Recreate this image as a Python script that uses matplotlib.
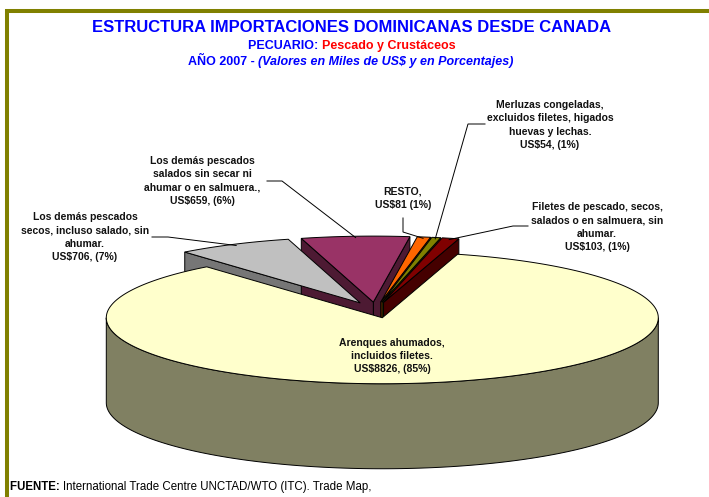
import numpy as np
import matplotlib.pyplot as plt
from matplotlib.patches import Polygon

plt.rcParams['font.family'] = ['Liberation Sans', 'DejaVu Sans']

# data (clockwise from the back-left)
names = ["Los demás pescados\nsecos, incluso salado, sin\nahumar.",
         "Los demás pescados\nsalados sin secar ni\nahumar o en salmuera.,",
         "RESTO,",
         "Merluzas congeladas,\nexcluidos filetes, higados\nhuevas y lechas.",
         "Filetes de pescado, secos,\nsalados o en salmuera, sin\nahumar.",
         "Arenques ahumados,\nincluidos filetes."]
values = [706, 659, 81, 54, 103, 8826]
seps = [",", ",", "", ",", ",", ","]

top_colors = ['#C0C0C0', '#993366', '#FF6600', '#808000', '#800000', '#FFFFCC']
side_colors = ['#767676', '#4D1A33', '#8A3700', '#454500', '#450000', '#808062']

# pie geometry (pixels)
CX, CY = 375.5, 310
RX, RY = 276, 66
DEPTH = 85
EXPLODE = 0.12
START = 129.5

label_xy = [(85, 237), (202, 181), (403, 198), (550, 125), (597, 227), (392, 356)]
elbows = [[(152, 237), (168, 237)], [(267, 181), (282, 181)],
          [(403, 218), (403, 232)], [(485, 124), (468, 124)],
          [(528, 226), (513, 226)], None]

fig = plt.figure(figsize=(7.09, 4.97), dpi=100)
ax = fig.add_axes([0, 0, 1, 1])
ax.set_xlim(0, 709)
ax.set_ylim(497, 0)
ax.axis('off')

vals = np.array(values, dtype=float)
cum = np.concatenate([[0], np.cumsum(vals) / vals.sum()])
bounds = START - 360 * cum


def rim(c, th, r=1.0):
    t = np.radians(th)
    return (c[0] + RX * r * np.cos(t), c[1] - RY * r * np.sin(t))


slices = []
for i in range(len(vals)):
    t0, t1 = bounds[i], bounds[i + 1]
    m = np.radians((t0 + t1) / 2)
    c = (CX + RX * EXPLODE * np.cos(m), CY - RY * EXPLODE * np.sin(m))
    slices.append((t0, t1, c))

ek = dict(edgecolor='black', linewidth=0.7)

# radial walls
for i, (t0, t1, c) in enumerate(slices):
    for th, vis in ((t1, np.cos(np.radians(t1)) > 0), (t0, np.cos(np.radians(t0)) < 0)):
        if not vis:
            continue
        p = rim(c, th)
        quad = [c, p, (p[0], p[1] + DEPTH), (c[0], c[1] + DEPTH)]
        ax.add_patch(Polygon(quad, closed=True, facecolor=side_colors[i], **ek))

# outer front sides
for i, (t0, t1, c) in enumerate(slices):
    lo, hi = max(t1, -180), min(t0, 0)
    if hi <= lo:
        continue
    arc = [rim(c, th) for th in np.linspace(lo, hi, 200)]
    band = arc + [(x, y + DEPTH) for x, y in arc[::-1]]
    ax.add_patch(Polygon(band, closed=True, facecolor=side_colors[i], **ek))

# top faces
for i, (t0, t1, c) in enumerate(slices):
    n = max(int(abs(t0 - t1)), 4)
    arc = [rim(c, th) for th in np.linspace(t0, t1, n)]
    ax.add_patch(Polygon([c] + arc, closed=True, facecolor=top_colors[i], **ek))

# labels and leader lines
total = vals.sum()
for i, (t0, t1, c) in enumerate(slices):
    pct = int(round(100 * values[i] / total))
    txt = f"{names[i]}\nUS${values[i]}{seps[i]} ({pct}%)"
    ax.text(label_xy[i][0], label_xy[i][1], txt, ha='center', va='center',
            fontsize=7.5, fontweight='bold', linespacing=1.38, color='#111111')
    if elbows[i] is not None:
        end = rim(c, (t0 + t1) / 2, 0.98)
        pts = elbows[i] + [end]
        ax.plot([p[0] for p in pts], [p[1] for p in pts], color='black', lw=0.7)

renderer = fig.canvas.get_renderer()


def rich_line(x, y, parts, size, ha='center'):
    texts = [ax.text(0, y, s, color=col, fontsize=size, fontweight=w,
                     fontstyle=st, ha='left', va='center') for s, col, w, st in parts]
    widths = [t.get_window_extent(renderer).width for t in texts]
    x0 = x - sum(widths) / 2 if ha == 'center' else x
    for t, w in zip(texts, widths):
        t.set_x(x0)
        x0 += w


ax.text(352, 27, "ESTRUCTURA IMPORTACIONES DOMINICANAS DESDE CANADA", ha='center',
        va='center', fontsize=12, fontweight='bold', color='#0000FF')
rich_line(352, 46, [("PECUARIO: ", '#0000FF', 'bold', 'normal'),
                    ("Pescado y Crustáceos", '#FF0000', 'bold', 'normal')], 9)
rich_line(351, 62, [("AÑO 2007 - ", '#0000FF', 'bold', 'normal'),
                    ("(Valores en Miles de US$ y en Porcentajes)", '#0000FF', 'bold', 'italic')], 9)
rich_line(10, 487, [("FUENTE: ", '#000000', 'bold', 'normal'),
                    ("International Trade Centre UNCTAD/WTO (ITC). Trade Map,", '#000000', 'normal', 'normal')],
          8.3, ha='left')

# frame
ax.plot([5, 712], [11, 11], color='#808000', lw=2.9, solid_capstyle='butt')
ax.plot([7, 7], [9, 500], color='#808000', lw=2.9, solid_capstyle='butt')

fig.savefig('out.png', dpi=100)
